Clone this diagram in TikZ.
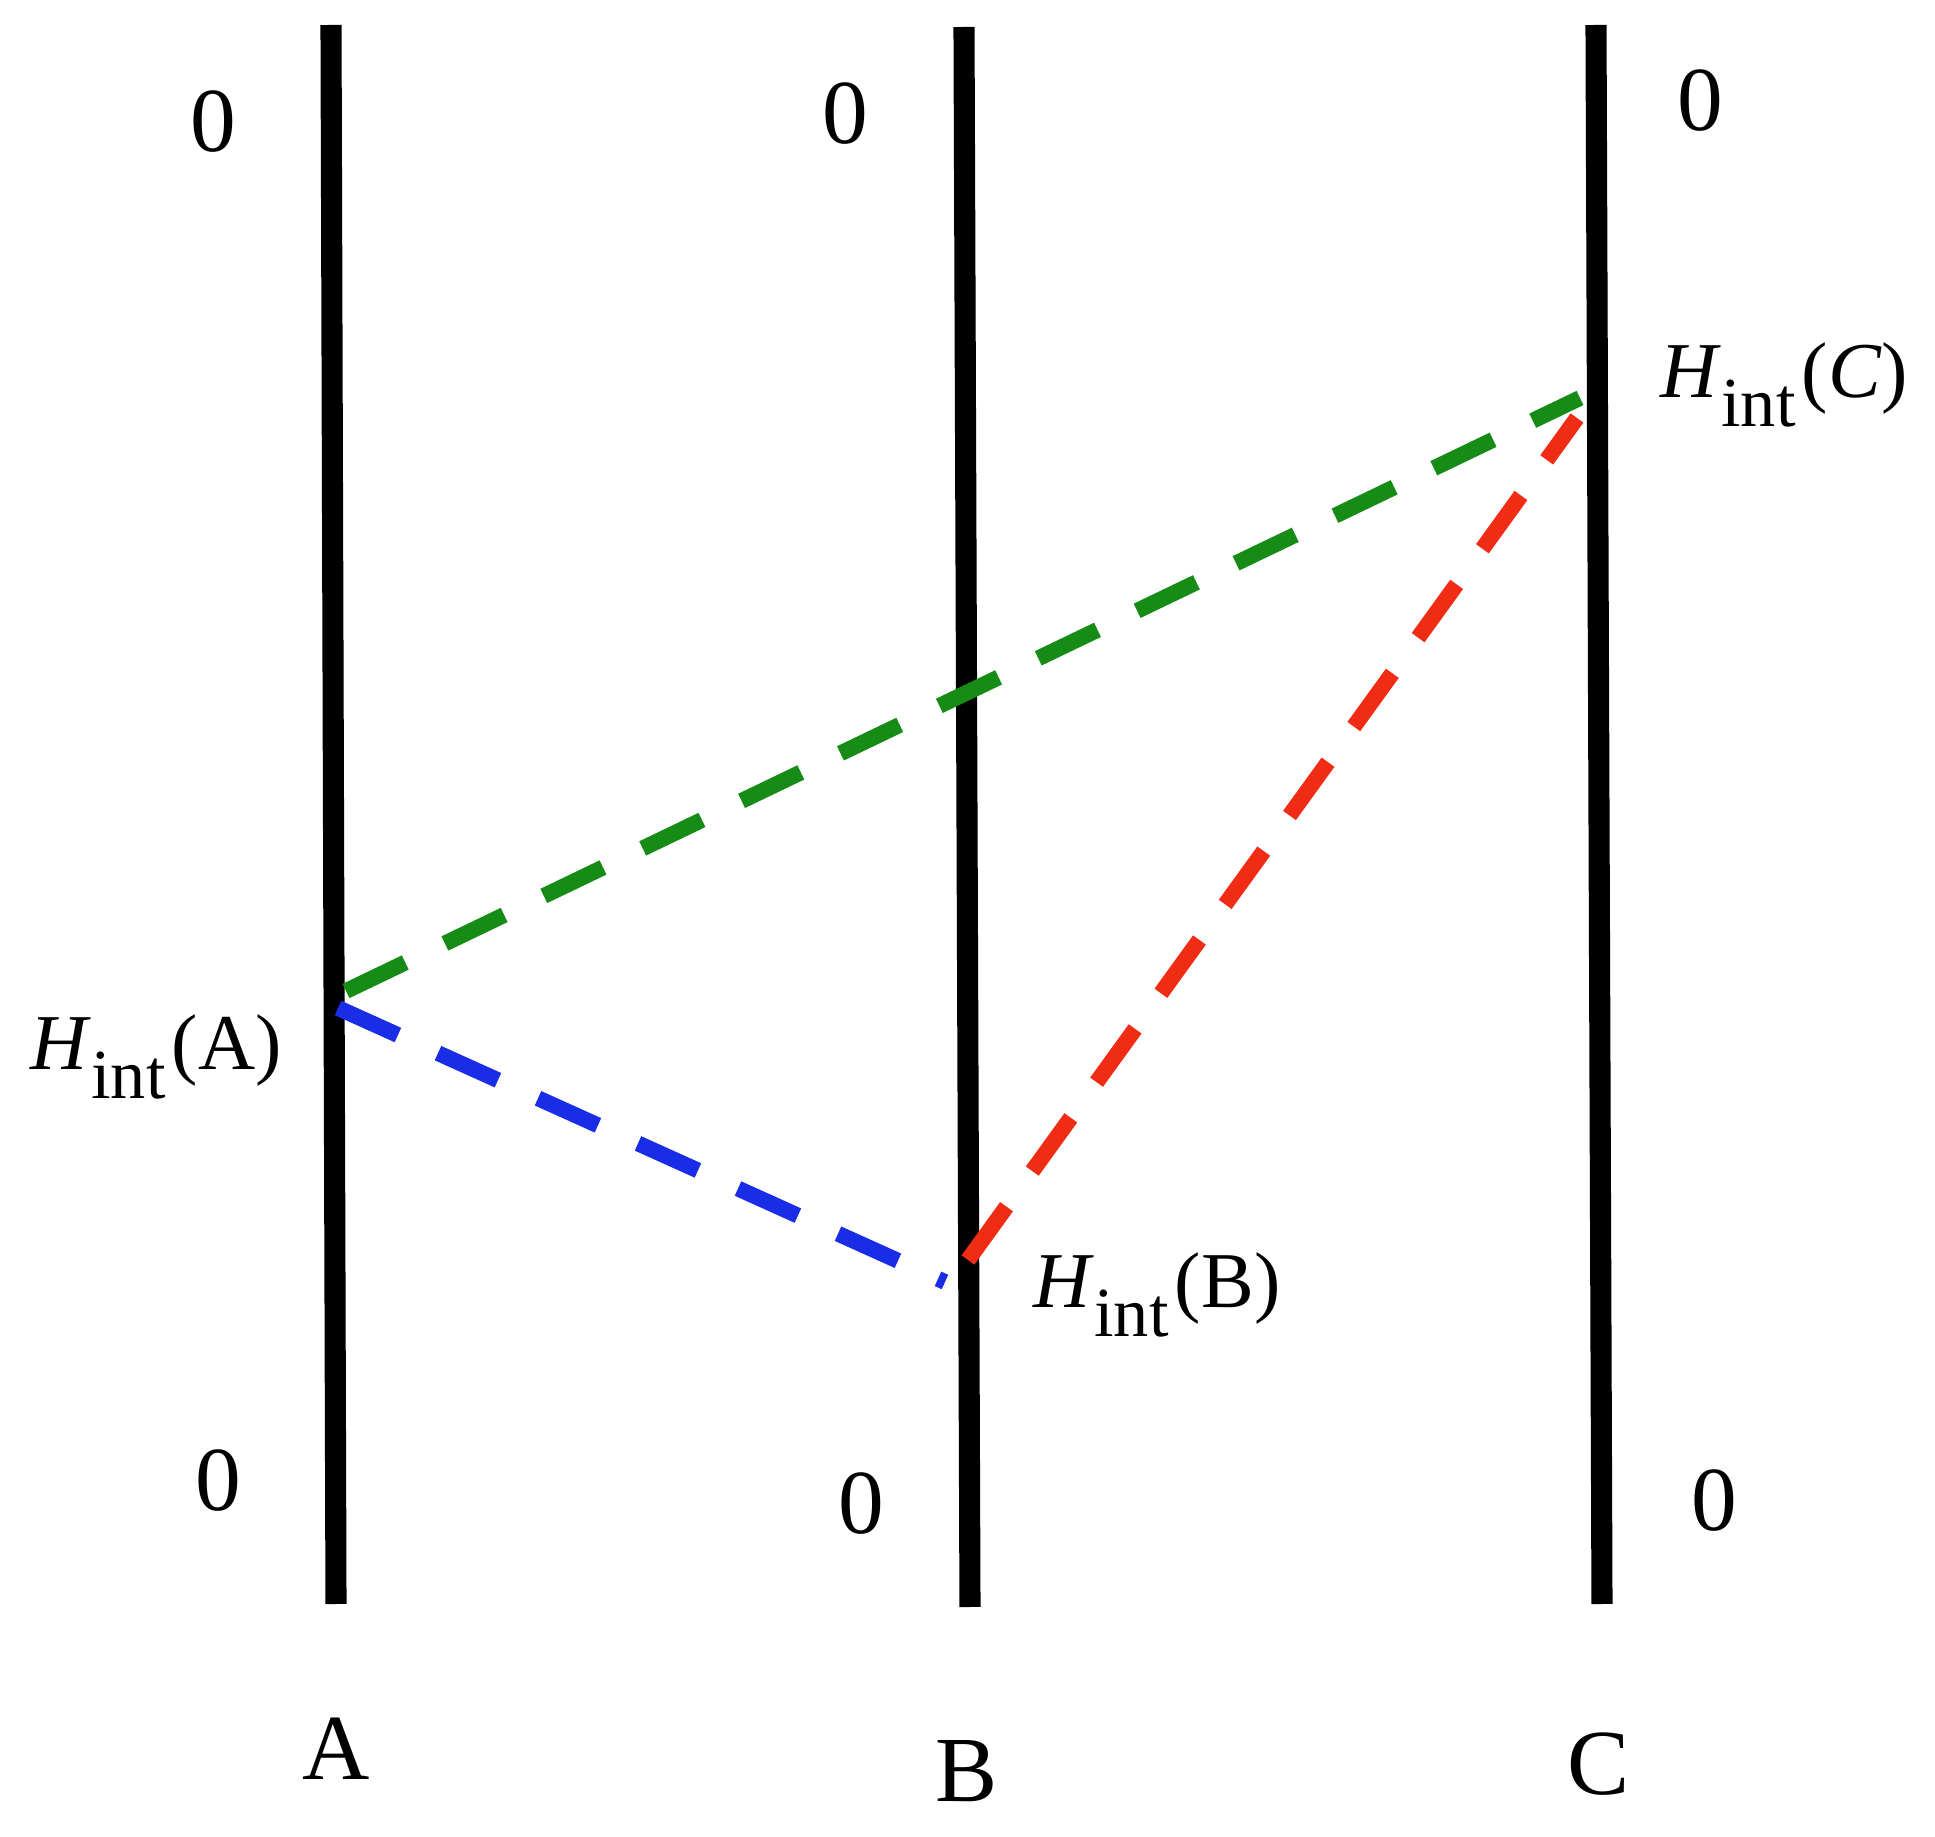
\documentclass[tikz,border=0pt]{standalone}
\usepackage{fontspec}
\setmainfont{Liberation Serif}
\definecolor{dgreen}{RGB}{22,140,22}
\definecolor{dblue}{RGB}{25,45,230}
\definecolor{dred}{RGB}{240,45,20}
\newcommand{\Hint}[1]{\textit{H}\raisebox{-0.36em}{\fontsize{20pt}{20pt}\selectfont int}\kern0.08em(#1)}
\begin{document}
\begin{tikzpicture}[x=0.01cm,y=-0.01cm,
  axis/.style={line width=6pt,black},
  link/.style={line width=4.5pt,dash pattern=on 18.7pt off 12.5pt},
  zero/.style={inner sep=0pt,anchor=center,font=\fontsize{26pt}{26pt}\selectfont},
  hlab/.style={inner sep=0pt,anchor=base west,font=\fontsize{22.5pt}{22.5pt}\selectfont},
  endlab/.style={inner sep=0pt,anchor=center,font=\fontsize{26.5pt}{26.5pt}\selectfont}]
\useasboundingbox (0,0) rectangle (1935,1837);
% axes
\coordinate (Atop) at (331,25);  \coordinate (Abot) at (336,1604);
\coordinate (Btop) at (964,27);  \coordinate (Bbot) at (970,1607);
\coordinate (Ctop) at (1596,25); \coordinate (Cbot) at (1602,1604);
\draw[axis] (Atop) -- (Abot);
\draw[axis] (Btop) -- (Bbot);
\draw[axis] (Ctop) -- (Cbot);
% connection points
\coordinate (gA) at (346,991);  \coordinate (gC) at (1580,398);
\coordinate (bA) at (338,1008); \coordinate (bB) at (945,1282);
\coordinate (rB) at (968,1260); \coordinate (rC) at (1577,418);
\draw[link,dgreen] (gA) -- (gC);
\draw[link,dblue] (bA) -- (bB);
\draw[link,dred] (rB) -- (rC);
% zeros
\node[zero] (zAt) at (213,122) {0};
\node[zero] (zBt) at (845,114) {0};
\node[zero] (zCt) at (1700,101) {0};
\node[zero] (zAb) at (218,1481) {0};
\node[zero] (zBb) at (861,1504) {0};
\node[zero] (zCb) at (1714,1501) {0};
% H labels
\node[hlab] (hA) at (30,1070) {\Hint{A}};
\node[hlab] (hB) at (1033,1308) {\Hint{B}};
\node[hlab] (hC) at (1660,398) {\Hint{\textit{C}}};
% axis names
\node[endlab] (lA) at (336,1749) {A};
\node[endlab] (lB) at (967,1771) {B};
\node[endlab] (lC) at (1599,1764) {C};
\end{tikzpicture}
\end{document}
